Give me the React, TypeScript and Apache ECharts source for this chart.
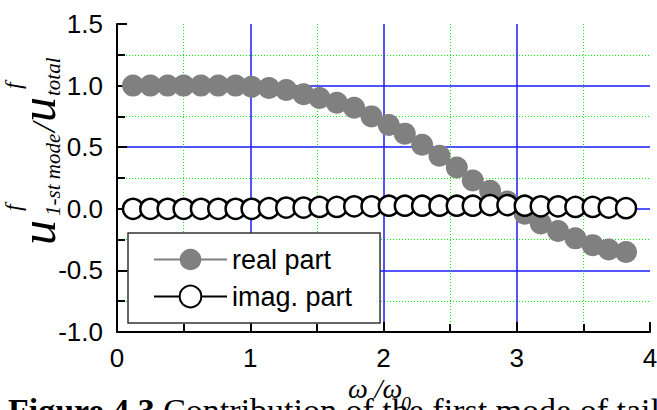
import React, { useEffect, useRef } from "react";
import * as echarts from "echarts";

const xs = [0.12, 0.25, 0.38, 0.50, 0.63, 0.76, 0.89, 1.01, 1.14, 1.27, 1.40, 1.52, 1.65, 1.78, 1.91, 2.04, 2.16, 2.29, 2.42, 2.55, 2.67, 2.80, 2.93, 3.06, 3.18, 3.31, 3.44, 3.57, 3.69, 3.82];
const realPart = [1.0, 1.0, 1.0, 1.0, 1.0, 1.0, 1.0, 0.99, 0.98, 0.965, 0.93, 0.90, 0.86, 0.82, 0.75, 0.68, 0.61, 0.52, 0.43, 0.335, 0.23, 0.146, 0.06, -0.04, -0.12, -0.18, -0.24, -0.295, -0.33, -0.35];
const imagPart = [0, 0, 0, 0, 0, 0, 0, 0, 0.005, 0.01, 0.01, 0.015, 0.015, 0.02, 0.02, 0.025, 0.025, 0.025, 0.025, 0.025, 0.025, 0.03, 0.03, 0.025, 0.02, 0.02, 0.015, 0.015, 0.01, 0.005];
const seriesNames = ["real part", "imag. part"];
const yTicks = { min: -1.0, max: 1.5, step: 0.5 };
const xTicks = { min: 0, max: 4, step: 1 };
const captionBold = "Figure 4.3";
const captionRest = " Contribution of the first mode of tail";

const SERIF = "Liberation Serif";
const SANS = "Liberation Sans";

function txt(text: string, x: number, baseline: number, fs: number, extra: any = {}) {
  return {
    type: "text",
    x,
    y: baseline - 0.34 * fs,
    style: {
      text,
      fill: "#000",
      fontFamily: SERIF,
      fontStyle: "italic",
      fontSize: fs,
      textAlign: "left",
      verticalAlign: "middle",
      ...extra,
    },
  };
}

function axisStyle() {
  return {
    axisLine: { show: true, onZero: false, lineStyle: { color: "#000", width: 2 } },
    axisTick: { show: true, inside: true, length: 10, lineStyle: { color: "#000", width: 2 } },
    minorTick: { show: true, splitNumber: 2, length: 8, lineStyle: { color: "#000", width: 2 } },
    splitLine: { show: true, showMinLine: false, showMaxLine: false, lineStyle: { color: "#1a1aff", width: 1.5 } },
    minorSplitLine: { show: true, lineStyle: { color: "#00ee00", width: 1, type: [1, 2] } },
  };
}

export default function App() {
  const ref = useRef<HTMLDivElement>(null);
  useEffect(() => {
    if (!ref.current) return;
    const chart = echarts.init(ref.current, null, { renderer: "svg" });
    chart.setOption({
      animation: false,
      backgroundColor: "#fff",
      grid: { left: 117, top: 24, right: 7, bottom: 78, containLabel: false, outerBoundsMode: "none" },
      xAxis: {
        type: "value",
        min: xTicks.min,
        max: xTicks.max,
        interval: xTicks.step,
        ...axisStyle(),
        axisLabel: { color: "#000", fontSize: 26, fontFamily: SANS, margin: 13, formatter: (v: number) => String(v) },
      },
      yAxis: {
        type: "value",
        min: yTicks.min,
        max: yTicks.max,
        interval: yTicks.step,
        ...axisStyle(),
        axisLabel: { color: "#000", fontSize: 26, fontFamily: SANS, margin: 14, formatter: (v: number) => v.toFixed(1) },
      },
      legend: {
        orient: "vertical",
        left: 128,
        top: 233,
        padding: [13, 28, 13, 25],
        itemGap: 10,
        itemWidth: 73,
        itemHeight: 27,
        backgroundColor: "#fff",
        borderColor: "#333",
        borderWidth: 1.5,
        borderRadius: 0,
        textStyle: { color: "#000", fontSize: 27, fontFamily: SANS },
        data: seriesNames,
      },
      series: [
        {
          name: seriesNames[0],
          type: "line",
          data: xs.map((x, i) => [x, realPart[i]]),
          symbol: "circle",
          symbolSize: 22,
          itemStyle: { color: "#808080" },
          lineStyle: { color: "#808080", width: 1.5 },
          z: 2,
        },
        {
          name: seriesNames[1],
          type: "line",
          data: xs.map((x, i) => [x, imagPart[i]]),
          symbol: "circle",
          symbolSize: 20,
          itemStyle: { color: "#fff", borderColor: "#000", borderWidth: 2.5 },
          lineStyle: { color: "#000", width: 2 },
          z: 3,
        },
      ],
      graphic: [
        {
          type: "group",
          x: 55,
          y: 245,
          rotation: Math.PI / 2,
          children: [
            txt("u", 0, 0, 50),
            txt("f", 34, -34, 24),
            txt("1-st mode", 29, 5, 21),
            txt("/", 113, 0, 34),
            txt("u", 123, 0, 50),
            txt("f", 156, -34, 24),
            txt("total", 149, 5, 21),
          ],
        },
        txt("\u03c9 /\u03c9", 348, 398, 28),
        txt("0", 401, 411, 20),
        {
          type: "text",
          x: 8,
          y: 422 - 0.34 * 34,
          style: {
            text: `{b|${captionBold}}{r|${captionRest}}`,
            verticalAlign: "middle",
            rich: {
              b: { fontFamily: SERIF, fontWeight: "bold", fontSize: 34, fill: "#000" },
              r: { fontFamily: SERIF, fontSize: 34, fill: "#000" },
            },
          },
        },
      ],
    });
    return () => chart.dispose();
  }, []);
  return <div ref={ref} style={{ position: "absolute", left: 0, top: 0, width: 657, height: 410 }} />;
}
